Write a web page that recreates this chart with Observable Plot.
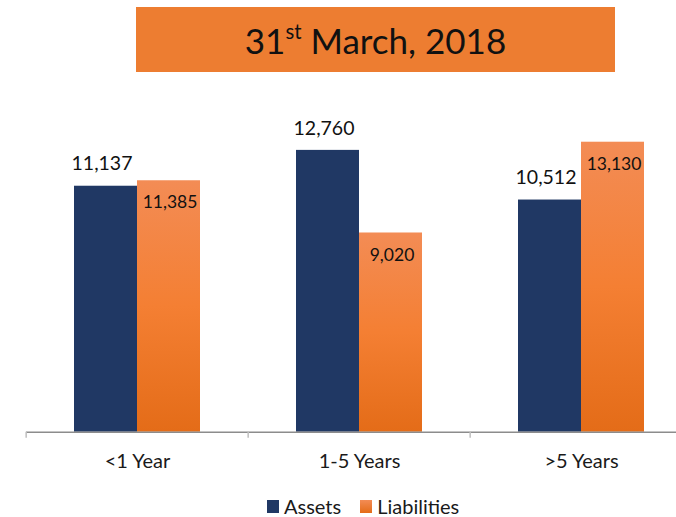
<!DOCTYPE html>
<html>
<head>
<meta charset="utf-8">
<script src="https://cdn.jsdelivr.net/npm/d3@7"></script>
<script src="https://cdn.jsdelivr.net/npm/@observablehq/plot@0.6"></script>
<style>
  html, body { margin: 0; padding: 0; background: #fff; }
  #page { position: relative; width: 676px; height: 517px; overflow: hidden; font-family: Lato, "Open Sans", sans-serif; color: #1a1a1a; }
  #title { position: absolute; left: 136px; top: 7px; width: 479px; height: 65px; background: #ED7D31;
           display: flex; align-items: center; justify-content: center; font-size: 35px; color: #111; white-space: pre; }
  #title sup { font-size: 58%; position: relative; top: -0.1em; vertical-align: super; line-height: 0; }
  #chart { position: absolute; left: 0; top: 80px; width: 693px; }
  #chart svg { max-width: none !important; }
  #legend { position: absolute; left: 267px; top: 494px; display: flex; align-items: center; font-size: 20px; color: #1a1a1a; }
  .sw { width: 12px; height: 13px; display: inline-block; margin-right: 5px; }
  .item { display: flex; align-items: center; margin-right: 19px; }
</style>
</head>
<body>
<div id="page">
  <div id="title"><span id="titleSpan"></span></div>
  <div id="chart"></div>
  <div id="legend"></div>
</div>
<script>
const titleMain = "31";
const titleSup = "st";
const titleRest = " March, 2018";
const categories = ["<1 Year", "1-5 Years", ">5 Years"];
const series = ["Assets", "Liabilities"];
const assets = [11137, 12760, 10512];
const liabilities = [11385, 9020, 13130];
const assetColor = "#203864";
const liabTop = "#F38C55", liabMid = "#F47F33", liabBottom = "#E46C18";

document.getElementById("titleSpan").innerHTML = `${titleMain}<sup>${titleSup}</sup>${titleRest.replace(/ /g, "&nbsp;")}`;

const rows = [];
categories.forEach((c, i) => {
  rows.push({category: c, series: series[0], value: assets[i]});
  rows.push({category: c, series: series[1], value: liabilities[i]});
});
const assetRows = rows.filter(d => d.series === series[0]);
const liabRows = rows.filter(d => d.series === series[1]);
const fmt = d3.format(",");

const W = 693, H = 400, mL = 25, mB = 48.3, mT = 42.5;
const bandW = (W - mL) / categories.length;

const chart = Plot.plot({
  width: W,
  height: H,
  marginLeft: mL,
  marginRight: 0,
  marginTop: mT,
  marginBottom: mB,
  style: {fontFamily: "Lato, 'Open Sans', sans-serif", color: "#1a1a1a", background: "transparent", overflow: "visible", maxWidth: "none"},
  fx: {domain: categories, padding: 0, label: null},
  x: {domain: series, paddingInner: 0, paddingOuter: 0.75, axis: null},
  y: {domain: [0, 14000], axis: null},
  marks: [
    Plot.barY(assetRows, {fx: "category", x: "series", y: "value", fill: assetColor}),
    Plot.barY(liabRows, {fx: "category", x: "series", y: "value", fill: "url(#liabGrad)"}),
    Plot.ruleY([0], {stroke: "#8c8c8c", strokeWidth: 1.5}),
    Plot.axisFx({anchor: "bottom", tickSize: 0, tickPadding: 22, fontSize: 20, label: null}),
    Plot.axisFx({anchor: "bottom", tickSize: 6, text: null, label: null, dx: -bandW / 2, stroke: "#bfbfbf", strokeWidth: 1.5}),
    Plot.text(assetRows, {fx: "category", x: "series", y: "value", text: d => fmt(d.value), dy: -22, dx: -4, fontSize: 19.5, fill: "#111"}),
    Plot.text(liabRows, {fx: "category", x: "series", y: "value", text: d => fmt(d.value), dy: 22, dx: 1, fontSize: 17.5, fill: "#111"})
  ]
});

const defs = d3.select(chart).insert("defs", ":first-child");
const g = defs.append("linearGradient").attr("id", "liabGrad").attr("x1", 0).attr("y1", 0).attr("x2", 0).attr("y2", 1);
g.append("stop").attr("offset", "0%").attr("stop-color", liabTop);
g.append("stop").attr("offset", "50%").attr("stop-color", liabMid);
g.append("stop").attr("offset", "100%").attr("stop-color", liabBottom);

document.getElementById("chart").appendChild(chart);

const legend = document.getElementById("legend");
const swatches = [assetColor, `linear-gradient(${liabTop}, ${liabBottom})`];
series.forEach((s, i) => {
  const item = document.createElement("div");
  item.className = "item";
  const sw = document.createElement("span");
  sw.className = "sw";
  sw.style.background = swatches[i];
  item.appendChild(sw);
  item.appendChild(document.createTextNode(s));
  legend.appendChild(item);
});
</script>
</body>
</html>
